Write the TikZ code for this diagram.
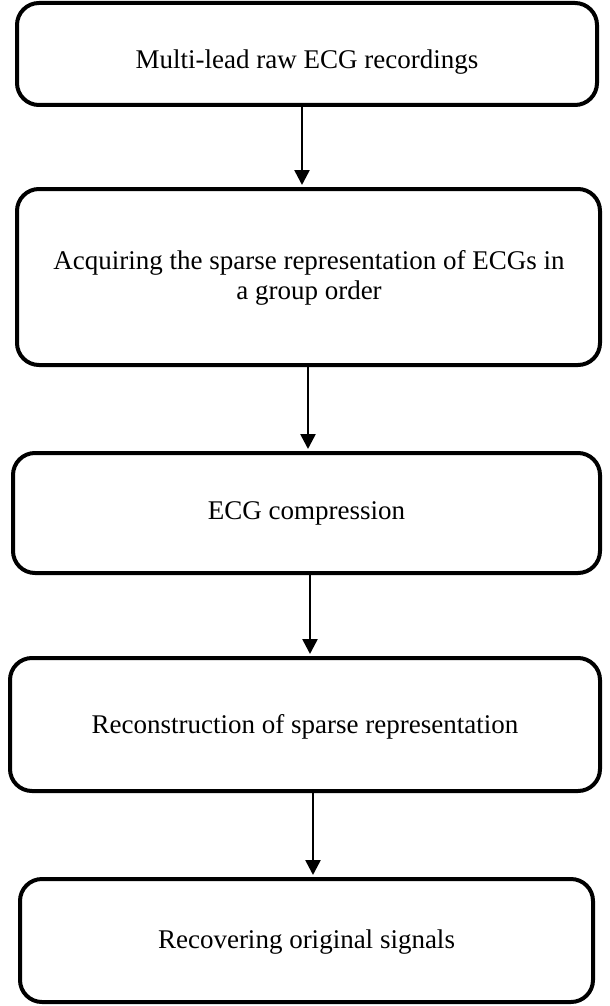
\documentclass[tikz,border=0pt]{standalone}
\usepackage{fontspec}
\setmainfont{Liberation Serif}
\usetikzlibrary{arrows.meta}
\begin{document}
\begin{tikzpicture}[x=1pt,y=-1pt,
  box/.style={draw=black,line width=4pt,rounded corners=22pt,inner sep=0pt},
  lbl/.style={font=\fontsize{27}{30}\selectfont,align=center,inner sep=0pt},
  arr/.style={line width=2.6pt,shorten >=2pt,-{Triangle[length=15pt,width=15pt]}}]
\useasboundingbox (0,0) rectangle (610,1006);
\node[box,minimum width=580pt,minimum height=102pt] (b1) at (307,54) {};
\node[box,minimum width=583pt,minimum height=176pt] (b2) at (308.5,277) {};
\node[box,minimum width=587pt,minimum height=120pt] (b3) at (306.5,513) {};
\node[box,minimum width=590pt,minimum height=133pt] (b4) at (305,724.5) {};
\node[box,minimum width=573pt,minimum height=123pt] (b5) at (306.5,940.5) {};
\node[lbl] (t1) at (307,62) {Multi-lead raw ECG recordings};
\node[lbl] (t2) at (309,278) {Acquiring the sparse representation of ECGs in\\a group order};
\node[lbl] (t3) at (306.5,513) {ECG compression};
\node[lbl] (t4) at (305,727) {Reconstruction of sparse representation};
\node[lbl] (t5) at (306.5,942) {Recovering original signals};
\draw[arr] (b1.south -| 302,0) -- (b2.north -| 302,0);
\draw[arr] (b2.south -| 308,0) -- (b3.north -| 308,0);
\draw[arr] (b3.south -| 310,0) -- (b4.north -| 310,0);
\draw[arr] (b4.south -| 313,0) -- (b5.north -| 313,0);
\end{tikzpicture}
\end{document}
